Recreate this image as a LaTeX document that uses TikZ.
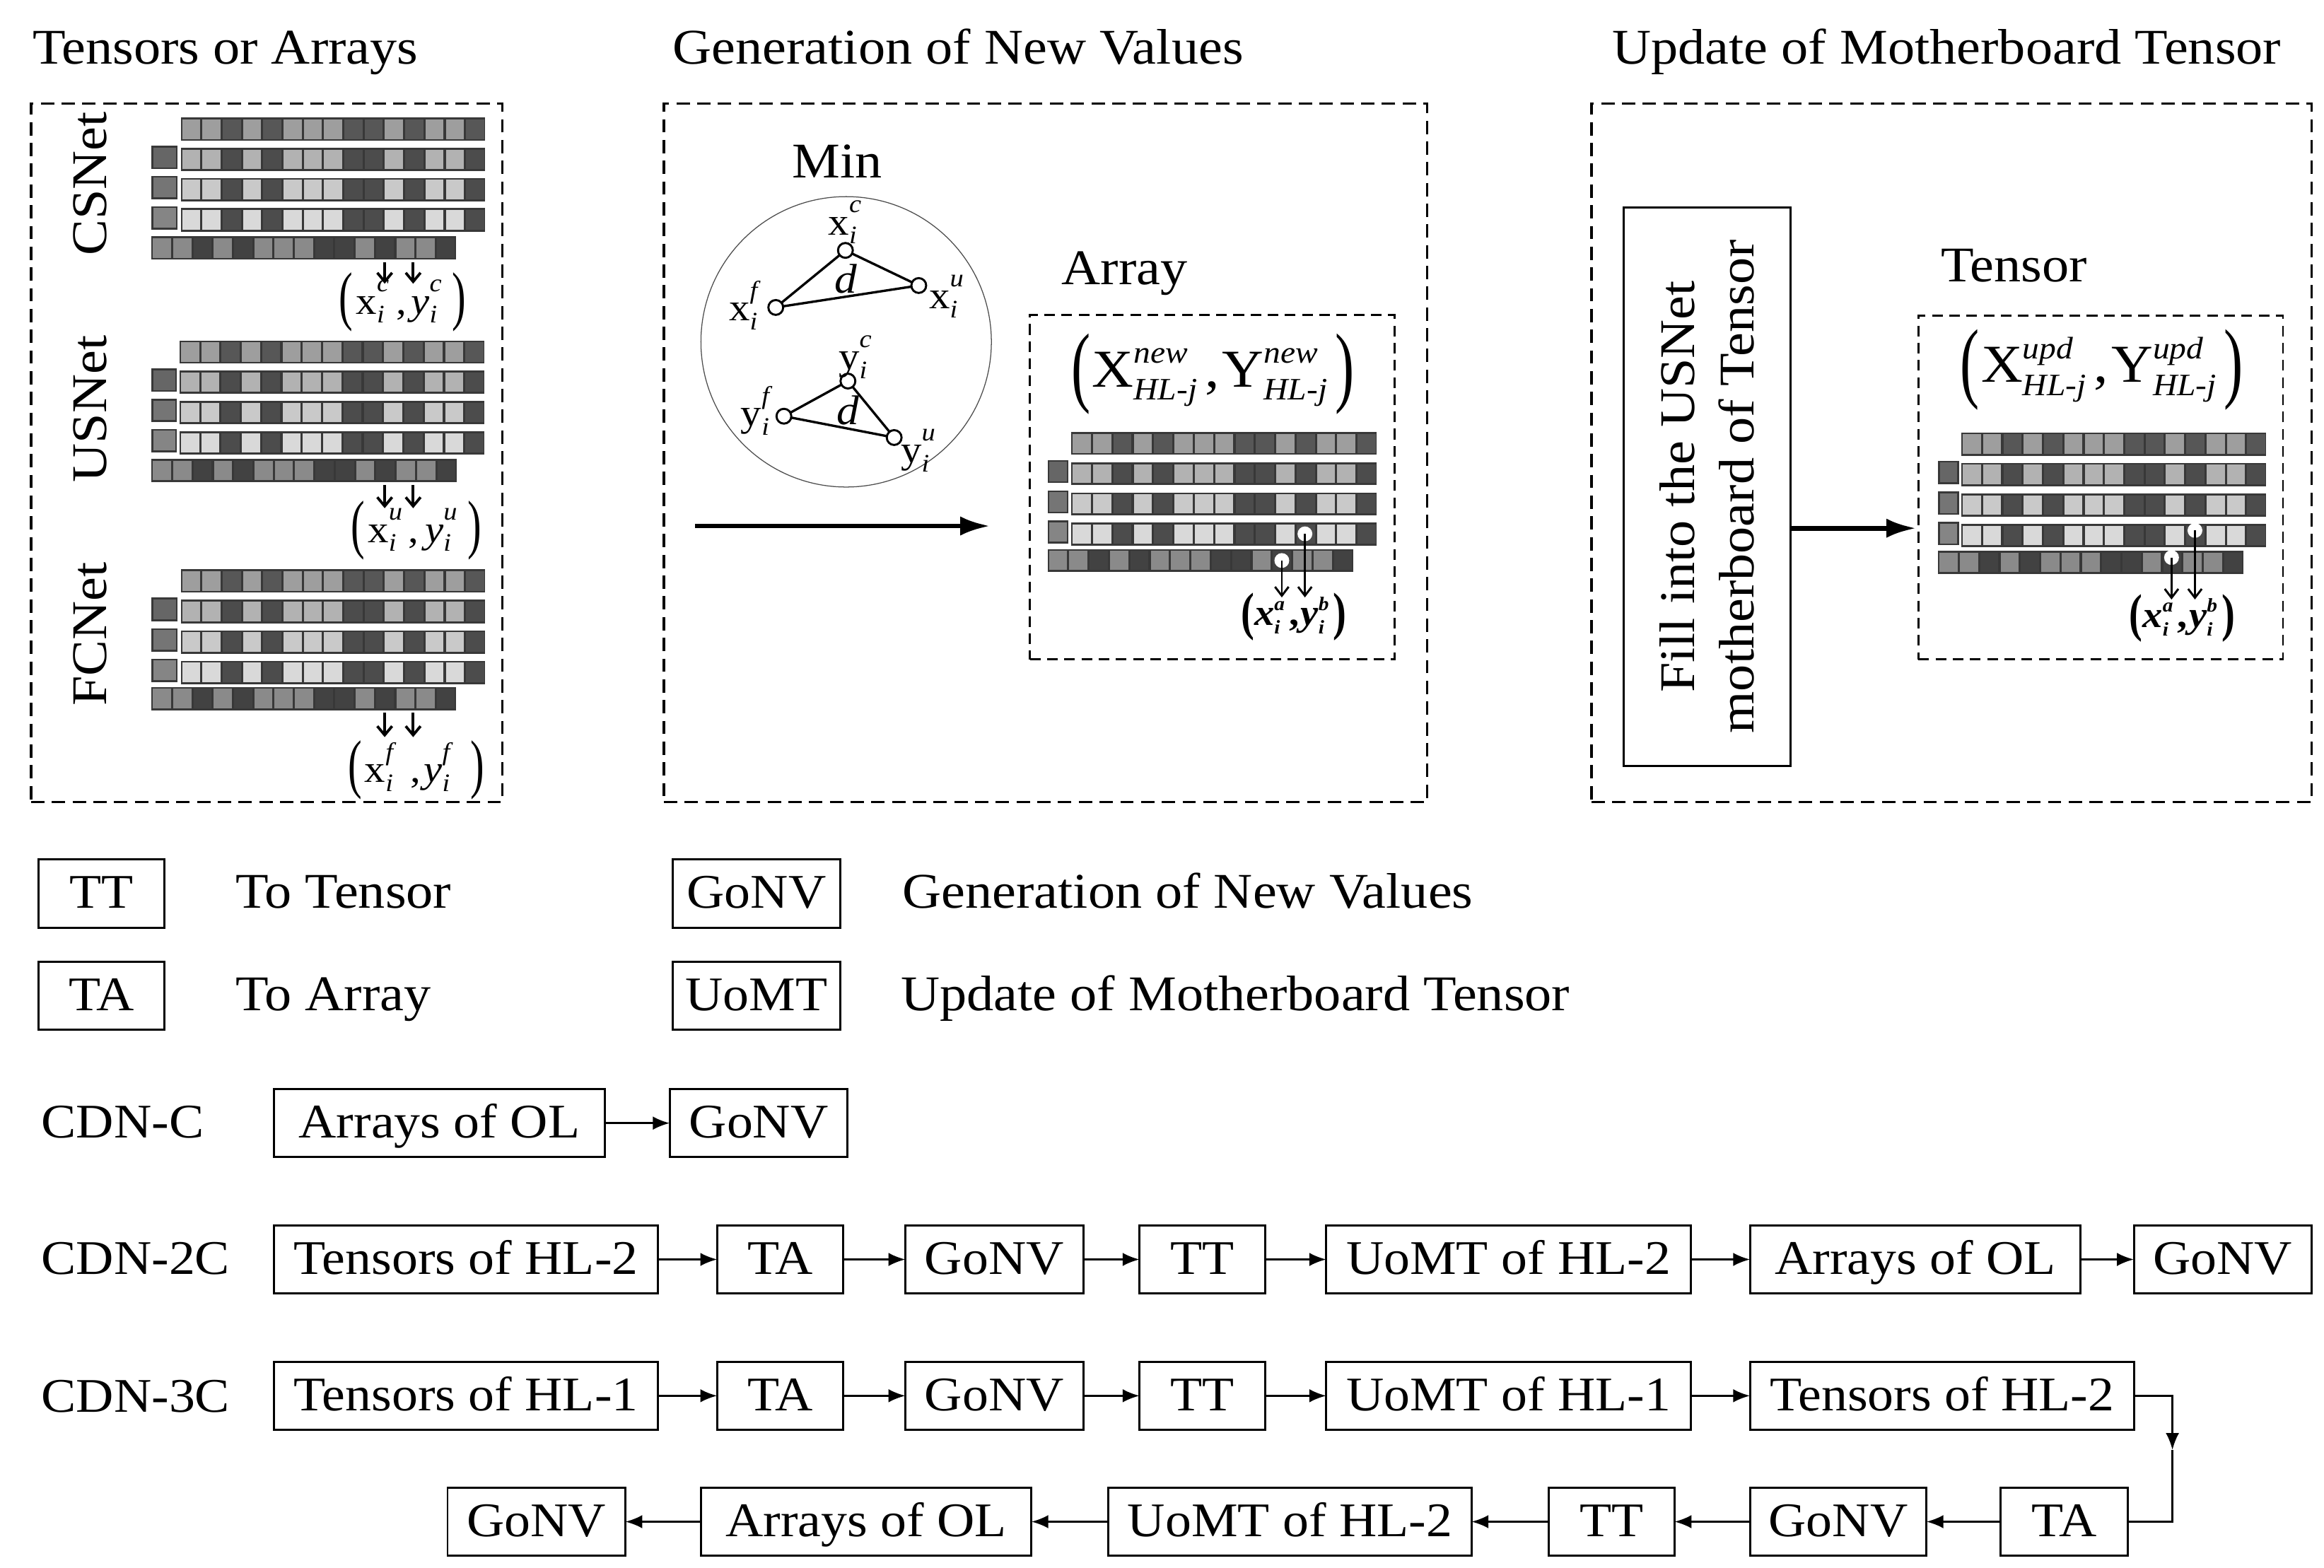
\documentclass[tikz,border=0pt]{standalone}
\usepackage{fontspec}
\setmainfont{Liberation Serif}[FakeStretch=1.08]
\usetikzlibrary{arrows.meta}
\newcommand\sz[1]{\fontsize{#1}{#1}\selectfont}
\newcommand\scr[3]{\rlap{\raisebox{\up}{\sz{\scrsz}\itshape #2}}\makebox[#1][l]{\raisebox{-\dn}{\sz{\scrsz}\itshape #3}}}
% paren: scale, raise
\newcommand\lp[2]{\raisebox{#2}{\scalebox{1}[#1]{(}}}
\newcommand\rp[2]{\raisebox{#2}{\scalebox{1}[#1]{)}}}
% sup, width after x, gap before y, width after y
\newcommand\smallf[4]{{\sz{13}\def\scrsz{8.5}\def\up{7.5pt}\def\dn{3pt}\lp{1.69}{-1.25pt}\hspace{1pt}x\scr{#2}{#1}{i},\hspace{#3}\textit{y}\scr{#4}{#1}{i}\rp{1.69}{-1.25pt}}}
\newcommand\boldf{{\sz{12.5}\bfseries\def\scrsz{6.5}\def\up{5.2pt}\def\dn{2.8pt}\lp{1.42}{-1.25pt}\textit{x}\scr{5pt}{\textbf{a}}{i},\hspace{0.5pt}\textit{y}\scr{5pt}{\textbf{b}}{i}\rp{1.42}{-1.25pt}}}
\newcommand\bigf[4]{{\sz{18}\def\scrsz{10.5}\def\up{8pt}\def\dn{4.5pt}\lp{1.67}{-3pt}\hspace{0.5pt}#1\scr{#3}{#2}{HL-j},\hspace{1pt}#4\scr{#3}{#2}{HL-j}\rp{1.67}{-3pt}}}
\newcommand\gridrow[6]{%
  \fill[black!78] (#1,#2) rectangle (#3,#4);
  \foreach \k/\s in {0/#5,1/#5,2/#6,3/#5,4/#6,5/#5,6/#5,7/#5,8/#6,9/#6,10/#5,11/#6,12/#5,13/#5,14/#6}
    {\fill[black!\s] ({#1+\k*(#3-#1)/15+0.9},{#2+1.3}) rectangle ({#1+(\k+1)*(#3-#1)/15-0.6},{#4-1.3});}
}
% rowleft rowright row5left y1 pitch h y5 smallw
\newcommand\tensorgrid[8]{%
  \gridrow{#1}{#4}{#2}{#4+#6}{38}{66}
  \gridrow{#1}{#4+#5}{#2}{#4+#5+#6}{30}{70}
  \gridrow{#1}{#4+2*#5}{#2}{#4+2*#5+#6}{21}{70}
  \gridrow{#1}{#4+3*#5}{#2}{#4+3*#5+#6}{15}{70}
  \gridrow{#3}{#7}{#3+#2-#1}{#7+#6}{46}{74}
  \foreach \q/\g in {1/60,2/54,3/48}{
    \fill[black!78] (#3,{#4+\q*#5-1.4}) rectangle ({#3+#8},{#4+\q*#5-1.4+#6});
    \fill[black!\g] ({#3+1},{#4+\q*#5-0.2}) rectangle ({#3+#8-1.2},{#4+\q*#5-2.6+#6});
  }
}
\tikzset{
  x=0.5pt,y=-0.5pt,
  every node/.style={inner sep=0pt,outer sep=0pt},
  txt/.style={font=\sz{16.85},text height=12pt,text depth=2pt},
  boxtxt/.style={font=\sz{16.3},text height=12pt,text depth=2pt},
  box/.style={draw,line width=0.7pt,boxtxt,fill=white},
  frame/.style={draw,line width=0.75pt,dash pattern=on 4.5pt off 2.5pt},
  flow/.style={line width=0.7pt,-{Latex[length=5.7pt,width=4.5pt]}},
  wire/.style={line width=0.7pt},
  thick flow/.style={line width=1.6pt,-{Latex[length=10pt,width=6.5pt]}},
  pick/.style={line width=0.9pt,-{Straight Barb[length=3pt,width=5pt]}},
  thin pick/.style={line width=0.7pt,-{Straight Barb[length=3pt,width=4.6pt]}},
  vtx/.style={circle,draw,fill=white,line width=0.7pt,minimum size=10*0.5pt},
  hole/.style={circle,fill=white,minimum size=10*0.5pt},
  edge line/.style={line width=0.8pt}
}
\newcommand\bx[6]{\node[box,minimum width={(#3-#2)*0.5pt},minimum height={#5*0.5pt}] (#1) at ({(#2+#3)/2},#4) {#6};}
\begin{document}
\begin{tikzpicture}
\useasboundingbox (0,0) rectangle (1568.3,1058.2);
% headings
\node[txt,anchor=west] (h1) at (22,33) {Tensors or Arrays};
\node[txt,anchor=west] (h2) at (454,33) {Generation of New Values};
\node[txt,anchor=west] (h3) at (1088,33) {Update of Motherboard Tensor};
% frames
\node[frame,minimum width={318*0.5pt},minimum height={471.5*0.5pt}] (f1) at (180,305.7) {};
\node[frame,minimum width={515*0.5pt},minimum height={471.5*0.5pt}] (f2) at (705.5,305.7) {};
\node[frame,minimum width={486*0.5pt},minimum height={471.5*0.5pt}] (f3) at (1317,305.7) {};
% left panel
\node[txt,rotate=90] (cs) at (62,124) {CSNet};
\node[txt,rotate=90] (us) at (62,276) {USNet};
\node[txt,rotate=90] (fc) at (62,428) {FCNet};
\tensorgrid{122}{327.3}{102.3}{79.3}{20.4}{15.8}{159.5}{17.5}
\tensorgrid{121.2}{326.9}{102.3}{229.8}{20.4}{15.6}{309.7}{17}
\tensorgrid{122}{327.3}{102.3}{384.2}{20.6}{15.8}{463.6}{17.5}
\node[anchor=base west] (fcs) at (229,212) {\smallf{c}{6.5pt}{1.5pt}{7.5pt}};
\node[anchor=base west] (fus) at (237,366) {\smallf{u}{6.5pt}{2.2pt}{8.2pt}};
\node[anchor=base west] (ffc) at (234.8,528) {\smallf{f}{8.4pt}{1pt}{9.5pt}};
\coordinate (c1) at (259.6,177); \coordinate (c2) at (278.8,177);
\coordinate (c1e) at (259.6,191.5); \coordinate (c2e) at (278.8,191.5);
\coordinate (u1) at (259.6,327.3); \coordinate (u2) at (278.8,327.3);
\coordinate (u1e) at (259.6,343); \coordinate (u2e) at (278.8,343);
\coordinate (n1) at (259.6,481); \coordinate (n2) at (278.8,481);
\coordinate (n1e) at (259.6,497.5); \coordinate (n2e) at (278.8,497.5);
\foreach \a/\b in {c1/c1e,c2/c2e,u1/u1e,u2/u2e,n1/n1e,n2/n2e}{\draw[pick] (\a) -- (\b);}
% middle panel
\node[txt] (min) at (565,110) {Min};
\node[circle,draw=black!70,line width=0.3pt,minimum size={196*0.5pt}] (circ) at (571,230.7) {};
\node[vtx] (xc) at (570.5,169) {};
\node[vtx] (xu) at (620,192.7) {};
\node[vtx] (xf) at (523.5,207.5) {};
\node[vtx] (yc) at (572.2,257.2) {};
\node[vtx] (yf) at (529,280.9) {};
\node[vtx] (yu) at (603.4,295.3) {};
\draw[edge line] (xc) -- (xu) -- (xf) -- (xc);
\draw[edge line] (yc) -- (yu) -- (yf) -- (yc);
\newcommand\vlab[3]{{\sz{13}\def\scrsz{8.5}\def\up{7.5pt}\def\dn{3pt}#1\scr{5pt}{#2}{#3}}}
\node (lxc) at (571,150) {\vlab{x}{c}{i}};
\node (lxf) at (504,206) {\vlab{x}{f}{i}};
\node (lxu) at (639,200) {\vlab{x}{u}{i}};
\node (lyc) at (578,241) {\vlab{y}{c}{i}};
\node (lyf) at (512,277) {\vlab{y}{f}{i}};
\node (lyu) at (620,304) {\vlab{y}{u}{i}};
\node[font=\sz{14}\itshape] (d1) at (571,188) {d};
\node[font=\sz{14}\itshape] (d2) at (572,277) {d};
\node[txt] (arr) at (759,182) {Array};
\node[frame,line width=0.65pt,dash pattern=on 3.6pt off 2.2pt,minimum width={246*0.5pt},minimum height={232.5*0.5pt}] (af) at (818,328.7) {};
\coordinate (ain) at (668,355);
\coordinate (aout) at (469,355);
\draw[thick flow] (aout) -- (ain);
\node[anchor=base west] (anew) at (723,261) {\bigf{X}{new}{24pt}{Y}};
\tensorgrid{723}{929}{707}{291.6}{20.4}{15.4}{370.6}{14}
\node[hole] (ha) at (865,378.3) {};
\node[hole] (hb) at (880.6,360.3) {};
\coordinate (ea) at (865,403.2); \coordinate (eb) at (880.6,403.2);
\draw[thin pick] (ha.center) -- (ea);
\draw[thin pick] (hb.center) -- (eb);
\node[anchor=base west] (fa) at (837.5,422.2) {\boldf};
% right panel
\node[box,rotate=90,align=center,font=\fontsize{16.85}{20}\selectfont,text height=,text depth=,minimum width={377*0.5pt},minimum height={112.5*0.5pt}] (fill) at (1152,328.5) {Fill into the USNet\\motherboard of Tensor};
\node[txt] (tn) at (1359,180) {Tensor};
\node[frame,line width=0.65pt,dash pattern=on 3.6pt off 2.2pt,minimum width={246*0.5pt},minimum height={232*0.5pt}] (tf) at (1417.6,329) {};
\coordinate (tin) at (1293,356.5);
\draw[thick flow] (fill.south |- tin) -- (tin);
\node[anchor=base west] (tupd) at (1323,258) {\bigf{X}{upd}{24pt}{Y}};
\tensorgrid{1323.6}{1529.3}{1308}{291.8}{20.6}{15.8}{371.7}{14}
\node[hole] (hc) at (1465.4,376.3) {};
\node[hole] (hd) at (1481.2,358) {};
\coordinate (ec) at (1465.4,404.6); \coordinate (ed) at (1481.2,404.6);
\draw[thin pick] (hc.center) -- (ec);
\draw[thin pick] (hd.center) -- (ed);
\node[anchor=base west] (fb) at (1437,423.5) {\boldf};
% legend
\bx{lgtt}{26}{111}{603}{46}{TT}
\bx{lgta}{26}{111}{672}{46}{TA}
\bx{lggo}{454}{567}{603}{46}{GoNV}
\bx{lguo}{454}{567}{672}{46}{UoMT}
\node[txt,anchor=west] (l1) at (159,603) {To Tensor};
\node[txt,anchor=west] (l2) at (159,672) {To Array};
\node[txt,anchor=west] (l3) at (609,603) {Generation of New Values};
\node[txt,anchor=west] (l4) at (608,672) {Update of Motherboard Tensor};
% CDN-C
\node[boxtxt,anchor=west] (cc) at (28,758) {CDN-C};
\bx{a1}{185}{408}{758}{46}{Arrays of OL}
\bx{a2}{452}{572}{758}{46}{GoNV}
\draw[flow] (a1) -- (a2);
% CDN-2C
\node[boxtxt,anchor=west] (c2c) at (28,850) {CDN-2C};
\bx{b1}{185}{444}{850}{46}{Tensors of HL-2}
\bx{b2}{484}{569}{850}{46}{TA}
\bx{b3}{611}{731}{850}{46}{GoNV}
\bx{b4}{769}{854}{850}{46}{TT}
\bx{b5}{895}{1141}{850}{46}{UoMT of HL-2}
\bx{b6}{1181}{1404}{850}{46}{Arrays of OL}
\bx{b7}{1440}{1560}{850}{46}{GoNV}
\foreach \p/\q in {b1/b2,b2/b3,b3/b4,b4/b5,b5/b6,b6/b7}{\draw[flow] (\p) -- (\q);}
% CDN-3C
\node[boxtxt,anchor=west] (c3c) at (28,943) {CDN-3C};
\bx{d1b}{185}{444}{942}{46}{Tensors of HL-1}
\bx{d2b}{484}{569}{942}{46}{TA}
\bx{d3b}{611}{731}{942}{46}{GoNV}
\bx{d4b}{769}{854}{942}{46}{TT}
\bx{d5b}{895}{1141}{942}{46}{UoMT of HL-1}
\bx{d6b}{1181}{1440}{942}{46}{Tensors of HL-2}
\foreach \p/\q in {d1b/d2b,d2b/d3b,d3b/d4b,d4b/d5b,d5b/d6b}{\draw[flow] (\p) -- (\q);}
\bx{e1}{1350}{1436}{1027}{46}{TA}
\bx{e2}{1181}{1300}{1027}{46}{GoNV}
\bx{e3}{1045}{1130}{1027}{46}{TT}
\bx{e4}{748}{993}{1027}{46}{UoMT of HL-2}
\bx{e5}{473}{696}{1027}{46}{Arrays of OL}
\bx{e6}{302}{422}{1027}{46}{GoNV}
\foreach \p/\q in {e1/e2,e2/e3,e3/e4,e4/e5,e5/e6}{\draw[flow] (\p) -- (\q);}
\coordinate (turn) at (1466,978.6);
\draw[flow] (d6b.east) -| (turn);
\draw[wire] (turn) |- (e1.east);
\end{tikzpicture}
\end{document}
